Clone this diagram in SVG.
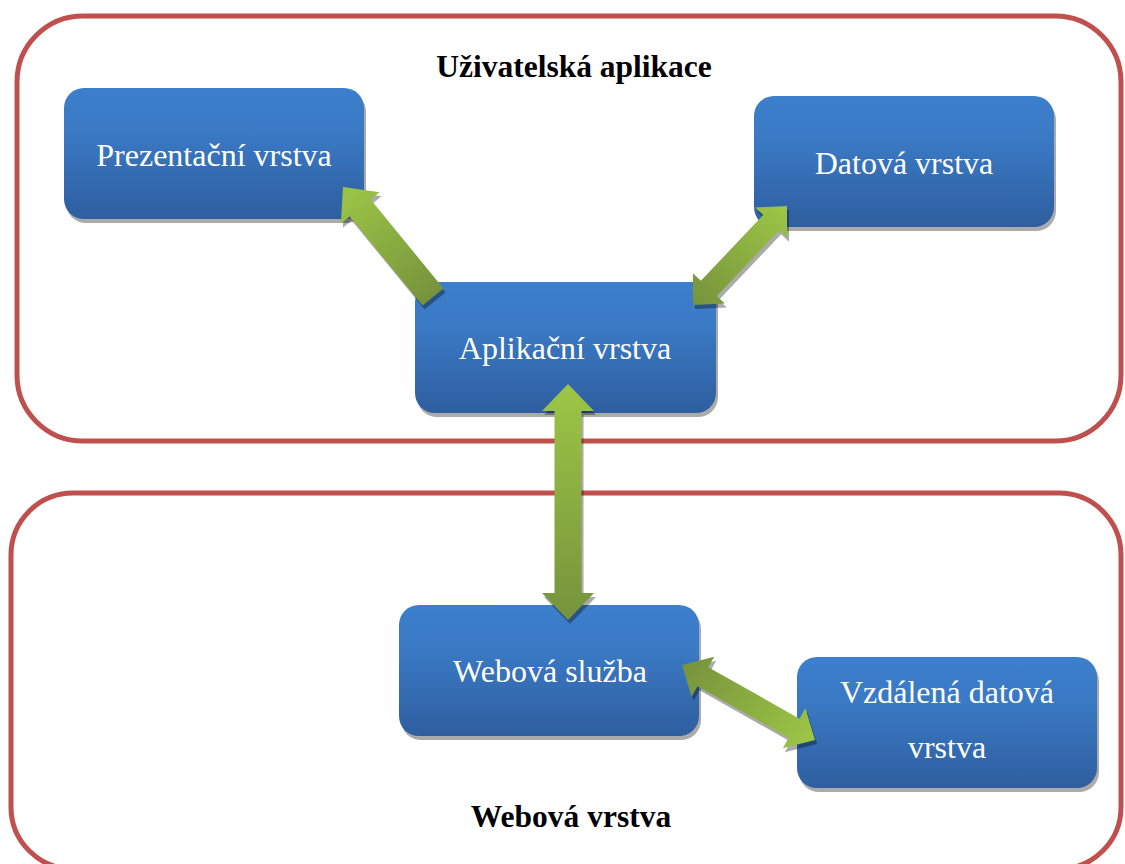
<svg xmlns="http://www.w3.org/2000/svg" xmlns:xlink="http://www.w3.org/1999/xlink" width="1125" height="864" viewBox="0 0 1125 864">
  <style>
    .frame { fill: none; stroke: #C0504D; stroke-width: 5; }
    .title { font-family: "Liberation Serif", "Times New Roman", serif; font-weight: bold; font-size: 31.5px; fill: #000; text-anchor: middle; }
    .box { fill: url(#boxGrad); }
    .boxShadow { fill: #000; opacity: 0.33; }
    .label { font-family: "Liberation Serif", "Times New Roman", serif; font-size: 32px; fill: #fff; text-anchor: middle; }
    .arrowShadow { fill: #000; opacity: 0.33; }
    .arrow { fill: url(#arrowGrad); }
  </style>
  <defs>
    <linearGradient id="boxGrad" x1="0" y1="0" x2="0" y2="1">
      <stop offset="0" stop-color="#3C7FCC"/>
      <stop offset="0.35" stop-color="#3A79C4"/>
      <stop offset="1" stop-color="#2E5E9F"/>
    </linearGradient>
    <!-- gradient runs along each arrow's own x axis: darker tail, lighter head -->
    <linearGradient id="arrowGrad" x1="0" y1="0" x2="1" y2="0">
      <stop offset="0" stop-color="#76933C"/>
      <stop offset="1" stop-color="#9DC646"/>
    </linearGradient>
    <path id="arrVert" transform="translate(568,620) rotate(-90)" d="M0,0 L27,-26 L27,-13.5 L209,-13.5 L209,-26 L236,0 L209,26 L209,13.5 L27,13.5 L27,26 Z"/>
    <path id="arrPres" transform="translate(433,297) rotate(-129.29)" d="M0,-13.5 L115,-13.5 L115,-25 L142,0 L115,25 L115,13.5 L0,13.5 Z"/>
    <path id="arrData" transform="translate(693,305) rotate(-46.48)" d="M0,0 L23,-22 L23,-11 L113.5,-11 L113.5,-22 L136.5,0 L113.5,22 L113.5,11 L23,11 L23,22 Z"/>
    <path id="arrRemote" transform="translate(682,665) rotate(29.42)" d="M0,0 L24,-23 L24,-11 L128.7,-11 L128.7,-23 L152.7,0 L128.7,23 L128.7,11 L24,11 L24,23 Z"/>
  </defs>

  <rect width="1125" height="864" fill="#fff"/>

  <!-- layer frames -->
  <g id="layer-app">
    <rect class="frame" x="17" y="16" width="1104" height="425" rx="66" ry="66"/>
    <text class="title" x="574" y="77">Uživatelská aplikace</text>
  </g>
  <g id="layer-web">
    <rect class="frame" x="11" y="493" width="1110" height="376" rx="62" ry="62"/>
    <text class="title" x="571" y="827">Webová vrstva</text>
  </g>

  <!-- nodes -->
  <g id="node-prezentacni">
    <rect class="boxShadow" x="66" y="92" width="300" height="131" rx="20"/>
    <rect class="box" x="64" y="88" width="300" height="131" rx="20"/>
    <text class="label" x="214" y="166">Prezentační vrstva</text>
  </g>
  <g id="node-datova">
    <rect class="boxShadow" x="756" y="100" width="300" height="131" rx="20"/>
    <rect class="box" x="754" y="96" width="300" height="131" rx="20"/>
    <text class="label" x="904" y="174">Datová vrstva</text>
  </g>
  <g id="node-aplikacni">
    <rect class="boxShadow" x="417" y="286" width="301" height="131" rx="20"/>
    <rect class="box" x="415" y="282" width="301" height="131" rx="20"/>
    <text class="label" x="565" y="359">Aplikační vrstva</text>
  </g>
  <g id="node-webova-sluzba">
    <rect class="boxShadow" x="401" y="609" width="300" height="131" rx="20"/>
    <rect class="box" x="399" y="605" width="300" height="131" rx="20"/>
    <text class="label" x="550" y="682">Webová služba</text>
  </g>
  <g id="node-vzdalena">
    <rect class="boxShadow" x="799" y="661" width="300" height="131" rx="20"/>
    <rect class="box" x="797" y="657" width="300" height="131" rx="20"/>
    <text class="label" x="947" y="703">Vzdálená datová</text>
    <text class="label" x="947" y="758">vrstva</text>
  </g>

  <!-- connectors -->
  <g id="connectors">
    <use href="#arrPres" class="arrowShadow" transform="translate(2,4)"/>
    <use href="#arrPres" class="arrow"/>
    <use href="#arrData" class="arrowShadow" transform="translate(2,4)"/>
    <use href="#arrData" class="arrow"/>
    <use href="#arrVert" class="arrowShadow" transform="translate(2,4)"/>
    <use href="#arrVert" class="arrow"/>
    <use href="#arrRemote" class="arrowShadow" transform="translate(2,4)"/>
    <use href="#arrRemote" class="arrow"/>
  </g>
</svg>
